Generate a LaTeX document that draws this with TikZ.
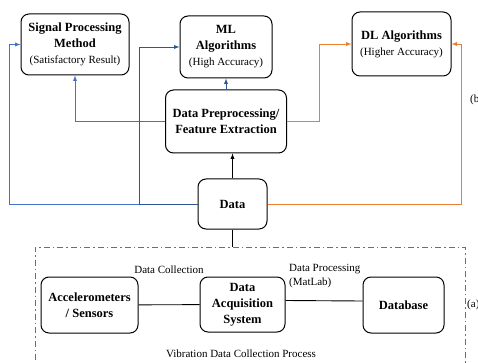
\documentclass[tikz,border=0pt]{standalone}
\usepackage{fontspec}
\setmainfont{Liberation Serif}
\usepackage{tikz}
\usetikzlibrary{calc, arrows}
\tikzset{>=latex}
\definecolor{lblue}{RGB}{68, 114, 196}
\definecolor{dblue}{RGB}{47, 85, 151}
\definecolor{orng}{RGB}{237, 125, 49}
\newcommand{\nt}[1]{{\mdseries\fontsize{11}{16}\selectfont #1}}
\tikzset{box/.style = {draw, line width = 1pt, rounded corners = 8pt, align = center, inner sep = 2pt, font = \fontsize{12.5}{16}\selectfont\bfseries},
  lbl/.style = {font = \fontsize{11}{14}\selectfont},
  link/.style = {line width = 0.9pt}}

\begin{document}
\begin{tikzpicture}[x = 1pt, y = -1pt]
\clip (0, 0) rectangle (478, 363);
\fill[white] (0, 0) rectangle (478, 363);
% results
\node[box, minimum width = 108, minimum height = 61] (sig) at (75, 44.5) {Signal Processing\\ Method\\ \nt{(Satisfactory Result)}};
\node[box, minimum width = 92, minimum height = 62] (ml) at (226, 47) {ML\\ Algorithms\\ \nt{(High Accuracy)}};
\node[box, minimum width = 99, minimum height = 64] (dl) at (401.5, 44) {DL Algorithms\\ \nt{(Higher Accuracy)}};
\node[box, minimum width = 121, minimum height = 63] (prep) at (226, 121.5) {Data Preprocessing/\\ Feature Extraction};
\node[box, minimum width = 69, minimum height = 50] (data) at (232.5, 204) {Data};
% collection process
\node[draw = lblue, line width = 1pt, dash pattern = on 6pt off 3pt on 1.5pt off 3pt, minimum width = 430, minimum height = 140] (frame) at (250, 317) {};
\node[box, minimum width = 97, minimum height = 56] (acc) at (89.5, 305) {Accelerometers\\ / Sensors};
\node[box, minimum width = 85, minimum height = 55] (daq) at (242.5, 304.5) {Data\\ Acquisition\\ System};
\node[box, minimum width = 81, minimum height = 56] (db) at (403.5, 305) {Database};
% labels
\node[lbl] (coll) at (169, 270) {Data Collection};
\node[lbl, anchor = west, align = left, inner sep = 0pt] (proc) at (289, 276) {Data Processing\\ (MatLab)};
\node[lbl] (vib) at (241, 354) {Vibration Data Collection Process};
\node[lbl, anchor = west, inner sep = 0pt] (a) at (467, 305) {(a)};
\node[lbl, anchor = west, inner sep = 0pt] (b) at (470, 100) {(b)};
% connectors
\draw[link, ->] (data.north) -- (data.north |- prep.south);
\draw[link, dblue, ->] (prep.north) -- (ml.south);
\draw[link, lblue, ->] (prep.west) -| (sig.south);
\draw[link, orng, ->] (prep.east) -- ++(32, 0) |- (dl.west);
\draw[link, lblue, ->] (data.west) -- ++(-188, 0) |- (sig.west);
\draw[link, dblue, ->] (data.west) -- ++(-58, 0) |- (ml.west);
\draw[link, orng, ->] (data.east) -- ++(194, 0) |- (dl.east);
\draw[link] (data.south) -- (data.south |- frame.north);
\draw[link] (acc) -- (daq);
\draw[link] ([yshift = 4pt]daq.east) -- ([yshift = 4pt]db.west);
\end{tikzpicture}
\end{document}
